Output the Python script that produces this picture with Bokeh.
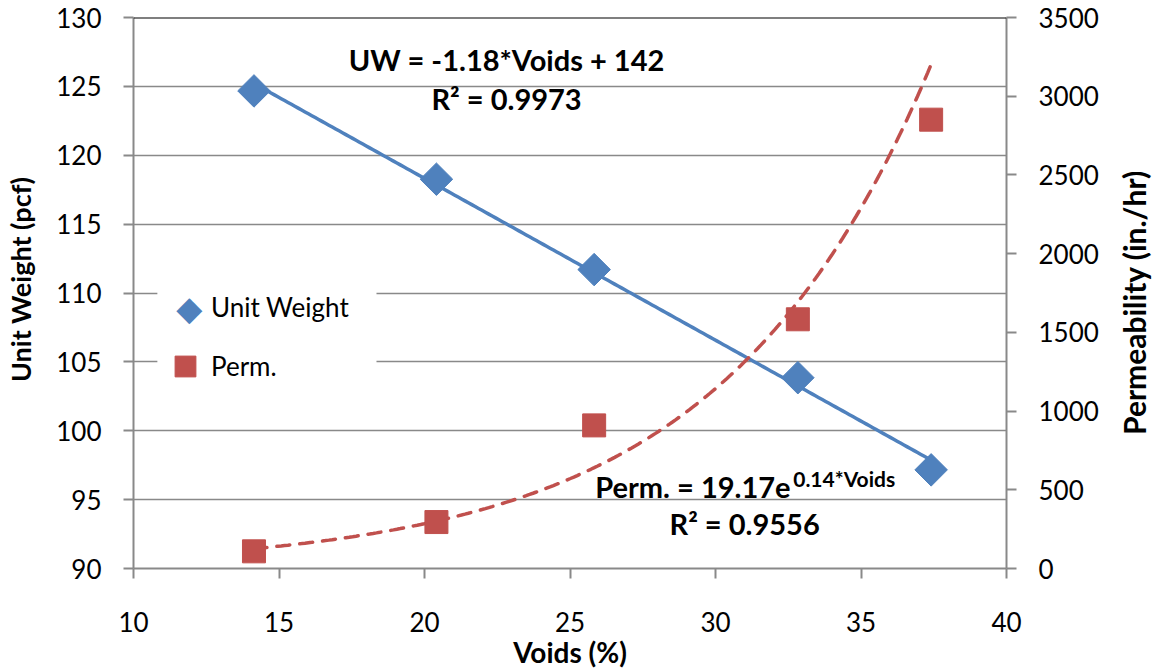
import numpy as np
from bokeh.plotting import figure
from bokeh.layouts import row
from bokeh.models import (Range1d, LinearAxis, Label, Span, Legend, LegendItem,
                          FixedTicker, ColumnDataSource, BoxAnnotation)
from bokeh.embed import file_html
from bokeh.resources import INLINE

# ---------------- data ----------------
voids = [14.14, 20.41, 25.83, 32.83, 37.41]
unit_weight = [124.67, 118.26, 111.70, 103.85, 97.16]
permeability = [109, 295, 909, 1583, 2851]

x_ticks = [10, 15, 20, 25, 30, 35, 40]
left_ticks = [90, 95, 100, 105, 110, 115, 120, 125, 130]
right_ticks = [0, 500, 1000, 1500, 2000, 2500, 3000, 3500]

x_title = "Voids (%)"
left_title = "Unit Weight (pcf)"
right_title = "Permeability (in./hr)"
series_names = ["Unit Weight", "Perm."]

uw_eq = "UW = -1.18*Voids + 142"
uw_r2 = "R² = 0.9973"
perm_eq_main = "Perm. = 19.17e"
perm_eq_sup = "0.14*Voids"
perm_r2 = "R² = 0.9556"

# ---------------- trend lines (fitted from the data) ----------------
lin = np.polyfit(voids, unit_weight, 1)
expo = np.polyfit(voids, np.log(permeability), 1)
xfit = np.linspace(min(voids), max(voids), 200)
uw_fit = np.polyval(lin, xfit)
perm_fit = np.exp(np.polyval(expo, xfit))

FONT = "Lato"
BLUE = "#4F81BD"
RED = "#C0504D"
GRAY = "#898989"
H = 671
LEFT_W = 46
RIGHT_W = 40
MAIN_W = 1152 - LEFT_W - RIGHT_W

p = figure(width=MAIN_W, height=H,
           x_range=Range1d(10, 40), y_range=Range1d(90, 130),
           output_backend="svg", toolbar_location=None,
           min_border_left=133 - LEFT_W, min_border_right=MAIN_W - (1006 - LEFT_W),
           min_border_top=17, min_border_bottom=102)
p.outline_line_color = None
p.background_fill_color = "white"
p.border_fill_color = "white"

p.extra_y_ranges = {"perm": Range1d(0, 3500)}

# grid
p.xgrid.visible = False
p.ygrid.ticker = FixedTicker(ticks=left_ticks[1:-1])
p.ygrid.grid_line_color = GRAY
p.ygrid.grid_line_width = 1.5

def style_axis(ax):
    ax.axis_line_color = GRAY
    ax.axis_line_width = 2
    ax.major_tick_line_color = GRAY
    ax.major_tick_line_width = 2
    ax.major_tick_out = 10
    ax.major_tick_in = 0
    ax.minor_tick_line_color = None
    ax.major_label_text_font = FONT
    ax.major_label_text_font_size = "26px"
    ax.major_label_text_color = "black"
    ax.axis_label_text_font = FONT
    ax.axis_label_text_font_size = "28px"
    ax.axis_label_text_font_style = "bold"
    ax.axis_label_text_color = "black"

xa = p.xaxis[0]
xa.ticker = FixedTicker(ticks=x_ticks)
xa.axis_label = x_title
style_axis(xa)
xa.major_label_standoff = 33
xa.axis_label_standoff = 0

ya = p.yaxis[0]
ya.ticker = FixedTicker(ticks=left_ticks)
style_axis(ya)
ya.major_label_standoff = 22

ra = LinearAxis(y_range_name="perm", ticker=FixedTicker(ticks=right_ticks))
style_axis(ra)
ra.major_label_standoff = 22
p.add_layout(ra, "right")

p.add_layout(Span(location=130, dimension="width", line_color="black", line_width=2))

# trend lines
p.line(xfit, uw_fit, line_color=BLUE, line_width=3.5)
p.line(xfit, perm_fit, y_range_name="perm", line_color=RED, line_width=3.5,
       line_dash="13 10", line_cap="round")

# markers
src_uw = ColumnDataSource(dict(x=voids, y=unit_weight))
src_p = ColumnDataSource(dict(x=voids, y=permeability))
r_uw = p.scatter("x", "y", source=src_uw, marker="square", angle=np.pi / 4,
                 size=23, fill_color=BLUE, line_color=BLUE)
r_p = p.scatter("x", "y", source=src_p, marker="square", size=23,
                fill_color=RED, line_color=RED, y_range_name="perm")

# legend: white box, then legend (transparent), diamond symbol as text glyph
p.add_layout(BoxAnnotation(left=10.82, right=18.35, bottom=102.75, top=110.80,
                           fill_color="white", fill_alpha=1.0, line_color=None))
r_dummy = p.scatter(x=[], y=[], marker="square", fill_alpha=0, line_alpha=0)
legend = Legend(items=[LegendItem(label=series_names[0], renderers=[r_dummy]),
                       LegendItem(label=series_names[1], renderers=[r_p])],
                location=(26, 176), padding=0, spacing=7,
                glyph_width=52, glyph_height=52, label_height=52,
                label_standoff=0, margin=0,
                label_text_font=FONT, label_text_font_size="26px",
                label_text_color="black",
                background_fill_alpha=0.0, border_line_color=None)
p.add_layout(legend)
p.add_layout(Label(x=11.92, y=108.91, text="◆", text_align="center",
                   text_baseline="middle", text_font="DejaVu Sans",
                   text_font_size="34px", text_color=BLUE))

def lab(fig, x, y, text, size="29px", align="center", baseline="alphabetic", angle=0.0):
    fig.add_layout(Label(x=x, y=y, text=text, text_align=align, text_baseline=baseline,
                         text_font=FONT, text_font_size=size, text_font_style="bold",
                         text_color="black", angle=angle))

# equations
lab(p, 22.82, 126.96, uw_eq)
lab(p, 22.82, 124.13, uw_r2)
lab(p, 32.58, 95.94, perm_eq_main, align="right")
lab(p, 32.67, 96.52, perm_eq_sup, size="21px", align="left")
lab(p, 31.0, 93.26, perm_r2)

# side strips holding the vertical axis titles
def strip(width):
    f = figure(width=width, height=H, x_range=Range1d(0, width), y_range=Range1d(0, H),
               output_backend="svg", toolbar_location=None,
               min_border_left=0, min_border_right=0, min_border_top=0, min_border_bottom=0)
    f.axis.visible = False
    f.grid.visible = False
    f.outline_line_color = None
    f.background_fill_color = "white"
    f.border_fill_color = "white"
    return f

pl = strip(LEFT_W)
lab(pl, 20, H - 319, left_title, size="27px", baseline="middle", angle=np.pi / 2)
pr = strip(RIGHT_W)
lab(pr, 21, H - 347, right_title, size="30px", baseline="middle", angle=np.pi / 2)

layout = row(pl, p, pr, spacing=0)
open("out.html", "w").write(file_html(layout, INLINE))
